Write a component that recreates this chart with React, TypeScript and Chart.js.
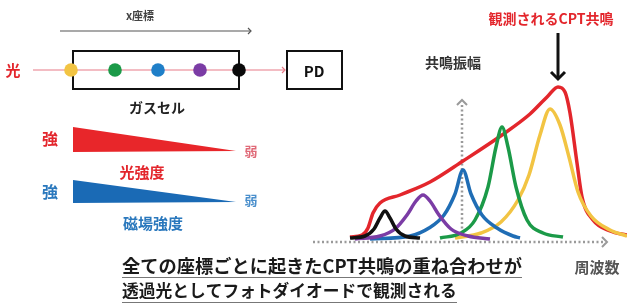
import React, { useEffect, useRef } from "react";
import { Chart, registerables } from "chart.js";

Chart.register(...registerables);

// frequency (arb. units) / resonance amplitude (arb. units)
const blackCurve: [number, number][] = [
  [37, 4], [52, 6], [61, 13], [67, 24], [72, 31], [77, 24], [83, 13], [92, 6], [107, 4],
];
const purpleCurve: [number, number][] = [
  [42, 3], [67, 6], [82, 13], [94, 27], [103, 41], [110, 47], [117, 41], [126, 27], [138, 13], [155, 6], [177, 3],
];
const blueCurve: [number, number][] = [
  [57, 3], [97, 6], [116, 14], [131, 27], [142, 48], [150, 72], [158, 48], [169, 27], [184, 14], [200, 6], [207, 4],
];
const greenCurve: [number, number][] = [
  [127, 4], [148, 9], [162, 22], [175, 55], [183, 95], [189, 115], [195, 95], [203, 55], [214, 22], [230, 9], [250, 5],
];
const yellowCurve: [number, number][] = [
  [142, 4], [168, 9], [188, 20], [205, 42], [216, 67], [227, 107], [237, 133], [247, 117], [256, 85], [265, 50], [278, 26], [297, 12], [314, 6],
];
const redCurve: [number, number][] = [
  [37, 5], [49, 7], [55, 14], [60, 29], [67, 39], [87, 47], [117, 60], [150, 81], [189, 107], [217, 128], [235, 146], [245, 155], [252, 150], [257, 129], [264, 79], [269, 45], [280, 22], [297, 11], [314, 7],
];

const seriesNames = ["観測されるCPT共鳴", "x1", "x2", "x3", "x4", "x5"];
const seriesColors = ["#e3262c", "#f2c443", "#1b9a48", "#1f6db5", "#7b3ca5", "#111111"];

const xAxisEnd = 292;
const yAxisAt = 149;
const yAxisTop = 142;

const FONT = '"Noto Sans CJK JP", "Noto Sans CJK SC", sans-serif';

function arrowHead(ctx: CanvasRenderingContext2D, x: number, y: number, dir: "r" | "u" | "d", s: number) {
  ctx.beginPath();
  if (dir === "r") { ctx.moveTo(x - s, y - s); ctx.lineTo(x, y); ctx.lineTo(x - s, y + s); }
  if (dir === "u") { ctx.moveTo(x - s, y + s); ctx.lineTo(x, y); ctx.lineTo(x + s, y + s); }
  if (dir === "d") { ctx.moveTo(x - s, y - s); ctx.lineTo(x, y); ctx.lineTo(x + s, y - s); }
  ctx.stroke();
}

function text(ctx: CanvasRenderingContext2D, s: string, x: number, y: number, size: number, color: string, align: CanvasTextAlign = "center") {
  ctx.font = `bold ${size}px ${FONT}`;
  ctx.fillStyle = color;
  ctx.textAlign = align;
  ctx.textBaseline = "middle";
  ctx.fillText(s, x, y);
}

function fitText(ctx: CanvasRenderingContext2D, s: string, x: number, y: number, width: number, color: string) {
  ctx.font = `bold 16px ${FONT}`;
  const w = ctx.measureText(s).width;
  const size = (16 * width) / w;
  text(ctx, s, x, y, size, color, "left");
}

const axesPlugin = {
  id: "axesPlugin",
  beforeDatasetsDraw(chart: any) {
    const { ctx, scales } = chart;
    const xs = scales.x, ys = scales.y;
    const y0 = ys.getPixelForValue(0);
    const x0 = xs.getPixelForValue(0);
    const x1 = xs.getPixelForValue(xAxisEnd);
    const xa = xs.getPixelForValue(yAxisAt);
    const yt = ys.getPixelForValue(yAxisTop);
    ctx.save();
    ctx.strokeStyle = "#9a9a9a";
    ctx.lineWidth = 2.5;
    ctx.setLineDash([2, 2.5]);
    ctx.beginPath();
    ctx.moveTo(x0, y0); ctx.lineTo(x1 - 2, y0);
    ctx.moveTo(xa, y0); ctx.lineTo(xa, yt + 3);
    ctx.stroke();
    ctx.setLineDash([]);
    ctx.lineWidth = 2;
    arrowHead(ctx, x1 + 2, y0, "r", 5);
    arrowHead(ctx, xa, yt, "u", 5);
    ctx.restore();
  },
};

const schematicPlugin = {
  id: "schematicPlugin",
  beforeDraw(chart: any) {
    const { ctx, width, height } = chart;
    ctx.save();
    ctx.fillStyle = "#ffffff";
    ctx.fillRect(0, 0, width, height);
    ctx.restore();
  },
  afterDraw(chart: any) {
    const ctx: CanvasRenderingContext2D = chart.ctx;
    ctx.save();
    // x coordinate arrow
    text(ctx, "x座標", 140, 16, 11, "#444");
    ctx.strokeStyle = "#555";
    ctx.lineWidth = 1.2;
    ctx.beginPath(); ctx.moveTo(60, 31); ctx.lineTo(250, 31); ctx.stroke();
    arrowHead(ctx, 251, 31, "r", 3);

    // light beam
    text(ctx, "光", 13, 70, 15, "#e3262c");
    ctx.strokeStyle = "#e87a88";
    ctx.lineWidth = 1.2;
    ctx.beginPath(); ctx.moveTo(33, 70); ctx.lineTo(284, 70); ctx.stroke();
    arrowHead(ctx, 285, 70, "r", 3);

    // gas cell
    ctx.strokeStyle = "#111";
    ctx.lineWidth = 2;
    ctx.strokeRect(73, 51, 166, 38);
    const dots: [number, string][] = [
      [71, "#f2c443"], [115, "#1b9a48"], [158, "#1f7fc8"], [200, "#7b3ca5"], [239, "#0a0a0a"],
    ];
    for (const [dx, c] of dots) {
      ctx.fillStyle = c;
      ctx.beginPath(); ctx.arc(dx, 70, 6.8, 0, Math.PI * 2); ctx.fill();
    }
    text(ctx, "ガスセル", 157, 108, 14, "#222");

    // PD box
    ctx.strokeStyle = "#111";
    ctx.lineWidth = 2;
    ctx.strokeRect(287, 51, 55, 38);
    text(ctx, "PD", 314, 71, 15, "#111");

    // light intensity wedge
    text(ctx, "強", 50, 139, 16, "#e3262c");
    ctx.fillStyle = "#e8262a";
    ctx.beginPath(); ctx.moveTo(73, 127); ctx.lineTo(236, 151); ctx.lineTo(73, 152); ctx.closePath(); ctx.fill();
    text(ctx, "弱", 251, 151, 13, "#e06a78");
    text(ctx, "光強度", 142, 172, 15, "#e3262c");

    // magnetic field wedge
    text(ctx, "強", 50, 192, 16, "#2a78bd");
    ctx.fillStyle = "#1a6ab5";
    ctx.beginPath(); ctx.moveTo(73, 180); ctx.lineTo(236, 202); ctx.lineTo(73, 203); ctx.closePath(); ctx.fill();
    text(ctx, "弱", 251, 200, 13, "#4a8fcc");
    text(ctx, "磁場強度", 153, 223, 15, "#2a78bd");

    // right-side labels
    text(ctx, "観測されるCPT共鳴", 551, 19, 14, "#e3262c");
    ctx.strokeStyle = "#111";
    ctx.lineWidth = 3;
    ctx.beginPath(); ctx.moveTo(558, 33); ctx.lineTo(558, 78); ctx.stroke();
    arrowHead(ctx, 558, 79, "d", 7);
    text(ctx, "共鳴振幅", 453, 63, 14, "#333");
    text(ctx, "周波数", 597, 267, 15, "#555");

    // bottom caption
    fitText(ctx, "全ての座標ごとに起きたCPT共鳴の重ね合わせが", 122, 266, 400, "#1a1a1a");
    fitText(ctx, "透過光としてフォトダイオードで観測される", 122, 291, 335, "#1a1a1a");
    ctx.strokeStyle = "#777";
    ctx.lineWidth = 1.2;
    ctx.beginPath();
    ctx.moveTo(122, 277.5); ctx.lineTo(522, 277.5);
    ctx.moveTo(122, 302.5); ctx.lineTo(457, 302.5);
    ctx.stroke();
    ctx.restore();
  },
};

export default function App() {
  const ref = useRef<HTMLCanvasElement | null>(null);
  useEffect(() => {
    if (!ref.current) return;
    const curves = [redCurve, yellowCurve, greenCurve, blueCurve, purpleCurve, blackCurve];
    const chart = new Chart(ref.current, {
      type: "line",
      data: {
        datasets: curves.map((c, i) => ({
          label: seriesNames[i],
          data: c.map(([x, y]) => ({ x, y })),
          borderColor: seriesColors[i],
          borderWidth: 3.5,
          pointRadius: 0,
          fill: false,
          cubicInterpolationMode: "monotone" as const,
          order: i === 0 ? 10 : 6 - i,
        })),
      },
      options: {
        responsive: false,
        animation: false,
        layout: { padding: { left: 313, right: 0, top: 80, bottom: 63 } },
        plugins: { legend: { display: false }, tooltip: { enabled: false } },
        scales: {
          x: { type: "linear", min: 0, max: 314, display: false },
          y: { type: "linear", min: 0, max: 162, display: false },
        },
      },
      plugins: [axesPlugin, schematicPlugin],
    });
    let alive = true;
    if ((document as any).fonts) {
      (document as any).fonts.load(`bold 16px ${FONT}`, "観測").then(() => {
        if (alive) chart.draw();
      });
    }
    return () => {
      alive = false;
      chart.destroy();
    };
  }, []);
  return (
    <div style={{ position: "fixed", left: 0, top: 0, width: 627, height: 305, background: "#fff" }}>
      <canvas ref={ref} width={627} height={305} />
    </div>
  );
}
